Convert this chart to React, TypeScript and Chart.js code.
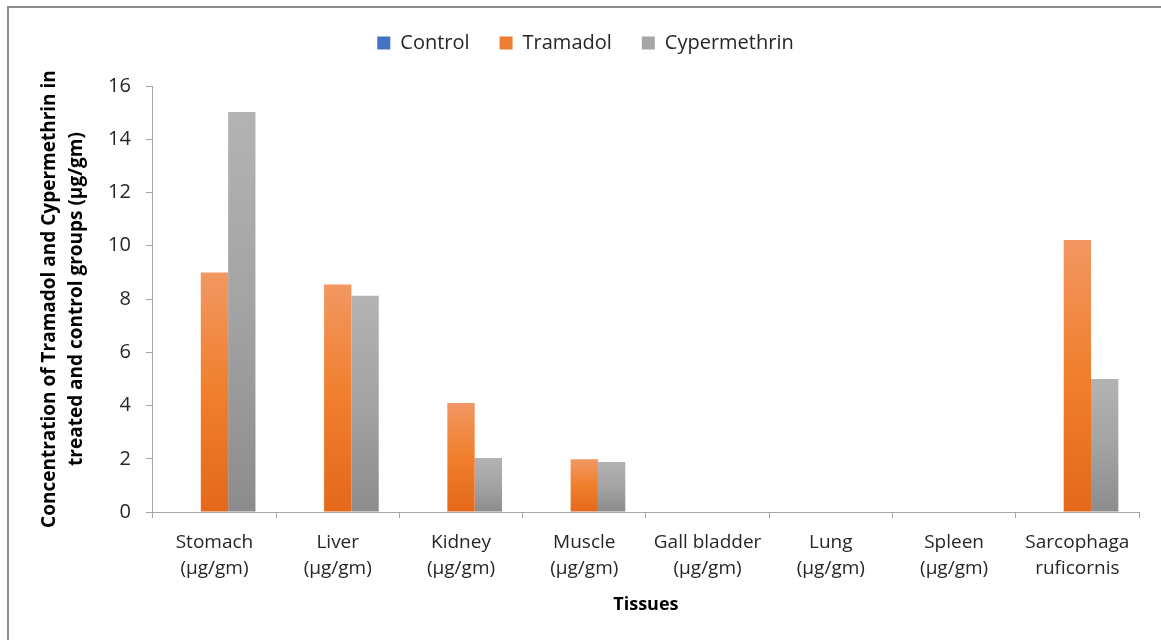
import React, { useEffect, useRef } from "react";
import { Chart, registerables } from "chart.js";

Chart.register(...registerables);

const categories: string[][] = [
  ["Stomach", "(µg/gm)"],
  ["Liver", "(µg/gm)"],
  ["Kidney", "(µg/gm)"],
  ["Muscle", "(µg/gm)"],
  ["Gall bladder", "(µg/gm)"],
  ["Lung", "(µg/gm)"],
  ["Spleen", "(µg/gm)"],
  ["Sarcophaga", "ruficornis"],
];
const controlValues = [0, 0, 0, 0, 0, 0, 0, 0];
const tramadolValues = [9.0, 8.55, 4.1, 1.98, 0, 0, 0, 10.22];
const cypermethrinValues = [15.02, 8.12, 2.03, 1.88, 0, 0, 0, 5.0];
const seriesNames = ["Control", "Tramadol", "Cypermethrin"];
const legendColors = ["#4472c4", "#ed7d31", "#a5a5a5"];
const gradientStops: [string, string, string][] = [
  ["#6a8fd6", "#4472c4", "#3763b4"],
  ["#f29762", "#f07f2c", "#e4681b"],
  ["#b3b3b3", "#a3a3a3", "#8c8c8c"],
];

const FONT = "'Open Sans', 'DejaVu Sans', sans-serif";

function barGradient(seriesIdx: number) {
  return (ctx: any) => {
    const chart = ctx.chart;
    const y = chart.scales?.y;
    const c = chart.ctx;
    if (!y || ctx.type !== "data") return legendColors[seriesIdx];
    const v = ctx.raw as number;
    const top = y.getPixelForValue(v);
    const base = y.getPixelForValue(0);
    if (!isFinite(top) || !isFinite(base) || Math.abs(base - top) < 1) return legendColors[seriesIdx];
    const g = c.createLinearGradient(0, top, 0, base);
    const s = gradientStops[seriesIdx];
    g.addColorStop(0, s[0]);
    g.addColorStop(0.5, s[1]);
    g.addColorStop(1, s[2]);
    return g;
  };
}

const framePlugin = {
  id: "frame",
  beforeInit(chart: any) {
    const legend = chart.legend;
    if (legend) {
      const origFit = legend.fit;
      legend.fit = function () {
        origFit.call(this);
        this.height += 23;
      };
    }
  },
  beforeDraw(chart: any) {
    const c = chart.ctx;
    c.save();
    c.fillStyle = "#ffffff";
    c.fillRect(0, 0, chart.width, chart.height);
    c.strokeStyle = "#8c8c8c";
    c.lineWidth = 2;
    c.beginPath();
    c.moveTo(8, chart.height + 2);
    c.lineTo(8, 7);
    c.lineTo(chart.width + 2, 7);
    c.stroke();
    c.restore();
  },
};

export default function App() {
  const ref = useRef<HTMLCanvasElement | null>(null);
  useEffect(() => {
    if (!ref.current) return;
    const data = [controlValues, tramadolValues, cypermethrinValues];
    const chart = new Chart(ref.current, {
      type: "bar",
      data: {
        labels: categories,
        datasets: seriesNames.map((name, i) => ({
          label: name,
          data: data[i],
          backgroundColor: barGradient(i),
          borderWidth: 0,
          barPercentage: 1.0,
          categoryPercentage: 0.665,
        })),
      },
      options: {
        animation: false,
        responsive: true,
        maintainAspectRatio: false,
        layout: { padding: { top: 3, left: 32, right: 22, bottom: 24 } },
        plugins: {
          tooltip: { enabled: false },
          legend: {
            position: "top",
            labels: {
              font: { family: FONT, size: 20 },
              color: "#262626",
              boxWidth: 13,
              boxHeight: 13,
              padding: 30,
              generateLabels: () =>
                seriesNames.map((n, i) => ({
                  text: n,
                  fillStyle: legendColors[i],
                  strokeStyle: legendColors[i],
                  lineWidth: 0,
                  hidden: false,
                  datasetIndex: i,
                  fontColor: "#262626",
                })),
            },
          },
        },
        scales: {
          x: {
            grid: {
              offset: true,
              drawOnChartArea: false,
              drawTicks: true,
              tickLength: 6,
              color: "#a6a6a6",
            },
            border: { color: "#a6a6a6", width: 1 },
            ticks: {
              font: { family: FONT, size: 19, lineHeight: 1.35 },
              color: "#262626",
              maxRotation: 0,
              autoSkip: false,
              padding: 12,
            },
            title: {
              display: true,
              text: "Tissues",
              font: { family: FONT, size: 18, weight: "bold" },
              color: "#000000",
              padding: { top: 1, bottom: 0 },
            },
          },
          y: {
            min: 0,
            max: 16,
            ticks: {
              stepSize: 2,
              font: { family: FONT, size: 20 },
              color: "#262626",
              padding: 15,
            },
            grid: {
              drawOnChartArea: false,
              drawTicks: true,
              tickLength: 7,
              color: "#a6a6a6",
            },
            border: { color: "#a6a6a6", width: 1 },
            title: {
              display: true,
              text: [
                "Concentration of Tramadol and Cypermethrin in",
                "treated and control groups (µg/gm)",
              ],
              font: { family: FONT, size: 19, weight: "bold", lineHeight: 1.42 },
              color: "#000000",
              padding: { top: 4, bottom: 3 },
            },
          },
        },
      },
      plugins: [framePlugin],
    });
    return () => chart.destroy();
  }, []);
  return (
    <div style={{ position: "fixed", left: 0, top: 0, width: 1161, height: 640, background: "#fff" }}>
      <canvas ref={ref} />
    </div>
  );
}
